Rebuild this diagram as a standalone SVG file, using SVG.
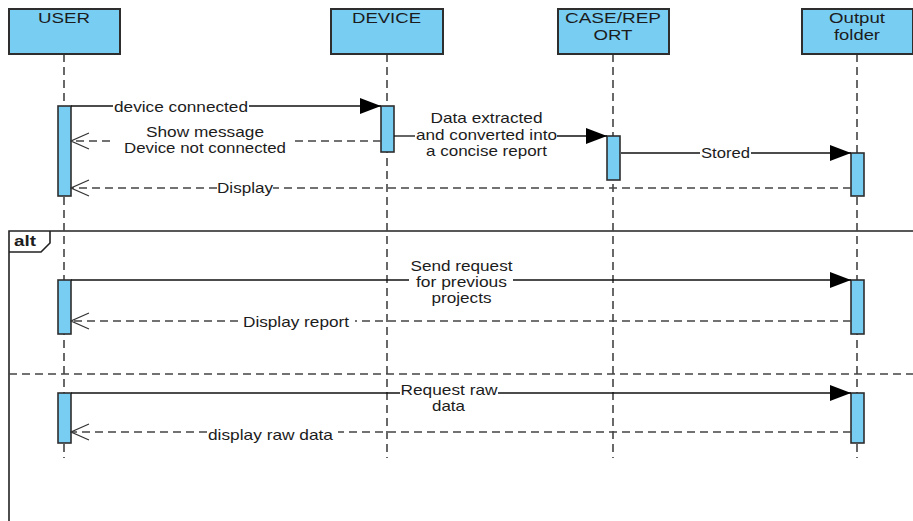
<svg xmlns="http://www.w3.org/2000/svg" width="913" height="521" viewBox="0 0 913 521">
  <style>
    .head { fill: #78cdf3; stroke: #2e2e2e; stroke-width: 2; }
    .act { fill: #78cdf3; stroke: #2e2e2e; stroke-width: 1.6; }
    .life { stroke: #444; stroke-width: 1.6; stroke-dasharray: 8 5; fill: none; }
    .call { stroke: #111; stroke-width: 1.3; fill: none; }
    .reply { stroke: #444; stroke-width: 1.3; stroke-dasharray: 8 5; fill: none; }
    .frame { stroke: #222; stroke-width: 1.6; fill: none; }
    .sep { stroke: #444; stroke-width: 1.3; stroke-dasharray: 8 5; fill: none; }
    text { font-family: "Liberation Sans", Arial, sans-serif; font-size: 15px; fill: #1c1c1c; text-anchor: middle; }
    .alt { font-weight: bold; text-anchor: start; font-size: 14px; }
  </style>
  <defs>
    <marker id="solidArrow" viewBox="0 0 21 16" refX="21" refY="8" markerWidth="21" markerHeight="16" orient="auto" markerUnits="userSpaceOnUse">
      <path d="M0,0 L21,8 L0,16 Z" fill="#000"/>
    </marker>
    <marker id="openArrow" viewBox="0 0 20 18" refX="19" refY="9" markerWidth="20" markerHeight="18" orient="auto" markerUnits="userSpaceOnUse">
      <path d="M1,1 L19,9 L1,17" fill="none" stroke="#333" stroke-width="1.2"/>
    </marker>
  </defs>

  <rect width="913" height="521" fill="#fff"/>

  <!-- combined fragment: alt -->
  <g id="alt-frame">
    <path class="frame" d="M9,521 V231 H913"/>
    <path class="frame" d="M9,252 H41 L50,243 V231"/>
    <text class="alt" x="14" y="246" textLength="22" lengthAdjust="spacingAndGlyphs">alt</text>
    <line class="sep" x1="9" y1="374" x2="913" y2="374"/>
  </g>

  <!-- participants with their lifelines -->
  <g id="user">
    <line class="life" x1="64" y1="54" x2="64" y2="458"/>
    <rect class="head" x="9" y="9" width="111" height="45"/>
    <text x="64" y="23" textLength="52" lengthAdjust="spacingAndGlyphs">USER</text>
    <rect class="act" x="58" y="106" width="13" height="90"/>
    <rect class="act" x="58" y="280" width="13" height="54"/>
    <rect class="act" x="58" y="393" width="13" height="50"/>
  </g>

  <g id="device">
    <line class="life" x1="387" y1="54" x2="387" y2="458"/>
    <rect class="head" x="331" y="9" width="112" height="45"/>
    <text x="386.5" y="23" textLength="69" lengthAdjust="spacingAndGlyphs">DEVICE</text>
    <rect class="act" x="381" y="106" width="13" height="46"/>
  </g>

  <g id="case-report">
    <line class="life" x1="613" y1="54" x2="613" y2="458"/>
    <rect class="head" x="558" y="9" width="111" height="45"/>
    <text x="613" y="23" textLength="96" lengthAdjust="spacingAndGlyphs">CASE/REP</text>
    <text x="613" y="40" textLength="39" lengthAdjust="spacingAndGlyphs">ORT</text>
    <rect class="act" x="607" y="136" width="13" height="44"/>
  </g>

  <g id="output-folder">
    <line class="life" x1="857" y1="54" x2="857" y2="458"/>
    <rect class="head" x="802" y="9" width="111" height="45"/>
    <text x="857" y="23" textLength="56" lengthAdjust="spacingAndGlyphs">Output</text>
    <text x="857" y="40" textLength="46" lengthAdjust="spacingAndGlyphs">folder</text>
    <rect class="act" x="851" y="153" width="13" height="43"/>
    <rect class="act" x="851" y="280" width="13" height="54"/>
    <rect class="act" x="851" y="393" width="13" height="50"/>
  </g>

  <!-- messages -->
  <g id="connectors">
    <line class="call" x1="71" y1="106" x2="113" y2="106"/>
    <line class="call" x1="249" y1="106" x2="381" y2="106" marker-end="url(#solidArrow)"/>
    <text x="181" y="112" textLength="134" lengthAdjust="spacingAndGlyphs">device connected</text>

    <line class="reply" x1="381" y1="141" x2="292" y2="141"/>
    <line class="reply" x1="110" y1="141" x2="71" y2="141" marker-end="url(#openArrow)"/>
    <text x="205" y="137" textLength="118" lengthAdjust="spacingAndGlyphs">Show message</text>
    <text x="205" y="153" textLength="162" lengthAdjust="spacingAndGlyphs">Device not connected</text>

    <line class="call" x1="394" y1="136" x2="415" y2="136"/>
    <line class="call" x1="557" y1="136" x2="607" y2="136" marker-end="url(#solidArrow)"/>
    <text x="486.5" y="123" textLength="112" lengthAdjust="spacingAndGlyphs">Data extracted</text>
    <text x="486.5" y="140" textLength="141" lengthAdjust="spacingAndGlyphs">and converted into</text>
    <text x="486.5" y="156" textLength="121" lengthAdjust="spacingAndGlyphs">a concise report</text>

    <line class="call" x1="621" y1="153" x2="700" y2="153"/>
    <line class="call" x1="751" y1="153" x2="851" y2="153" marker-end="url(#solidArrow)"/>
    <text x="725.5" y="158" textLength="49" lengthAdjust="spacingAndGlyphs">Stored</text>

    <line class="reply" x1="851" y1="188" x2="273" y2="188"/>
    <line class="reply" x1="217" y1="188" x2="71" y2="188" marker-end="url(#openArrow)"/>
    <text x="245" y="193" textLength="56" lengthAdjust="spacingAndGlyphs">Display</text>

    <line class="call" x1="71" y1="280" x2="409" y2="280"/>
    <line class="call" x1="513" y1="280" x2="851" y2="280" marker-end="url(#solidArrow)"/>
    <text x="461.5" y="271" textLength="102" lengthAdjust="spacingAndGlyphs">Send request</text>
    <text x="461.5" y="287" textLength="91" lengthAdjust="spacingAndGlyphs">for previous</text>
    <text x="461.5" y="303" textLength="60" lengthAdjust="spacingAndGlyphs">projects</text>

    <line class="reply" x1="851" y1="321" x2="355" y2="321"/>
    <line class="reply" x1="238" y1="321" x2="71" y2="321" marker-end="url(#openArrow)"/>
    <text x="296" y="327" textLength="106" lengthAdjust="spacingAndGlyphs">Display report</text>

    <line class="call" x1="71" y1="393" x2="400" y2="393"/>
    <line class="call" x1="498" y1="393" x2="851" y2="393" marker-end="url(#solidArrow)"/>
    <text x="449" y="395" textLength="97" lengthAdjust="spacingAndGlyphs">Request raw</text>
    <text x="448.5" y="411" textLength="33" lengthAdjust="spacingAndGlyphs">data</text>

    <line class="reply" x1="851" y1="432" x2="338" y2="432"/>
    <line class="reply" x1="207" y1="432" x2="71" y2="432" marker-end="url(#openArrow)"/>
    <text x="270.5" y="440" textLength="125" lengthAdjust="spacingAndGlyphs">display raw data</text>
  </g>
</svg>
